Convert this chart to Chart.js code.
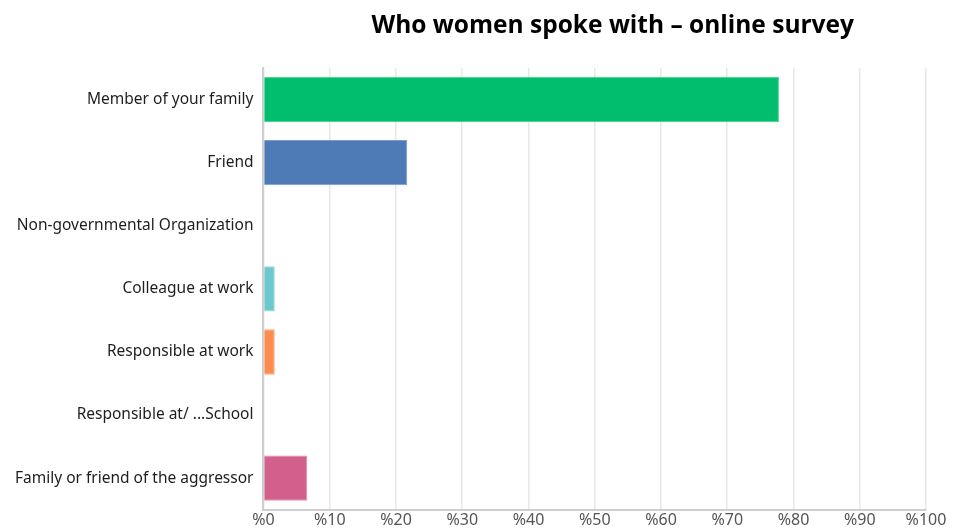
<!DOCTYPE html>
<html>
<head>
<meta charset="utf-8">
<script src="https://cdn.jsdelivr.net/npm/chart.js@4/dist/chart.umd.min.js"></script>
<style>
  html, body { margin: 0; padding: 0; background: #fff; }
  #wrap { width: 958px; height: 529px; position: relative; }
</style>
</head>
<body>
<div id="wrap"><canvas id="whoChart"></canvas></div>
<script>
// who the women talked to (percent of respondents)
var chartTitle = "Who women spoke with \u2013 online survey";
var categories = [
    "Member of your family",
    "Friend",
    "Non-governmental Organization",
    "Colleague at work",
    "Responsible at work",
    "Responsible at/ ...School",
    "Family or friend of the aggressor"
];
var percents = [77.8, 21.7, 0, 1.7, 1.7, 0, 6.6];
var barColors = ["#00be6e", "#4e7ab5", "#8c8c8c", "#6cc8cc", "#ff8c4e", "#8c8c8c", "#d35f8d"];
var edgeColors = ["#3fd08f", "#7d9dc9", "#aaaaaa", "#95d8da", "#ffaa7c", "#aaaaaa", "#e08aac"];
var tickStep = 10;
var tickMax = 100;

// title sits a bit right of the canvas centre, over the plot
var titlePlugin = {
    id: "offsetTitle",
    afterDraw: function(chart) {
        var ctx = chart.ctx;
        var area = chart.chartArea;
        ctx.save();
        ctx.font = "bold 24.5px 'Open Sans'";
        ctx.fillStyle = "#000";
        ctx.textAlign = "center";
        ctx.textBaseline = "alphabetic";
        ctx.fillText(chartTitle, (area.left + area.right) / 2 + 18, 33);
        ctx.restore();
    }
};

var whoChart = new Chart(document.getElementById("whoChart"), {
    type: "bar",
    data: {
        labels: categories,
        datasets: [{
            label: "Who women spoke with",
            data: percents,
            backgroundColor: barColors,
            borderColor: edgeColors,
            borderWidth: 1,
            categoryPercentage: 1,
            barPercentage: 0.72
        }]
    },
    options: {
        indexAxis: "y",
        responsive: true,
        maintainAspectRatio: false,
        animation: false,
        layout: { padding: { top: 68, right: 32, bottom: -3, left: 5 } },
        plugins: {
            legend: { display: false },
            title: { display: false },
            tooltip: { enabled: false }
        },
        scales: {
            x: {
                min: 0,
                max: tickMax,
                ticks: {
                    stepSize: tickStep,
                    color: "#555",
                    padding: 3,
                    font: { family: "'Noto Sans'", size: 16, lineHeight: 1 },
                    callback: function(v) { return "%" + v; }
                },
                grid: { color: "#e8e8e8", lineWidth: 1.5, drawTicks: false },
                border: { color: "#cfcfcf", width: 2 }
            },
            y: {
                ticks: {
                    color: "#1e1e1e",
                    padding: 10,
                    font: { family: "'Noto Sans'", size: 15.5 }
                },
                grid: { display: false, drawTicks: false },
                border: { color: "#cfcfcf", width: 2 }
            }
        }
    },
    plugins: [titlePlugin]
});
</script>
</body>
</html>
